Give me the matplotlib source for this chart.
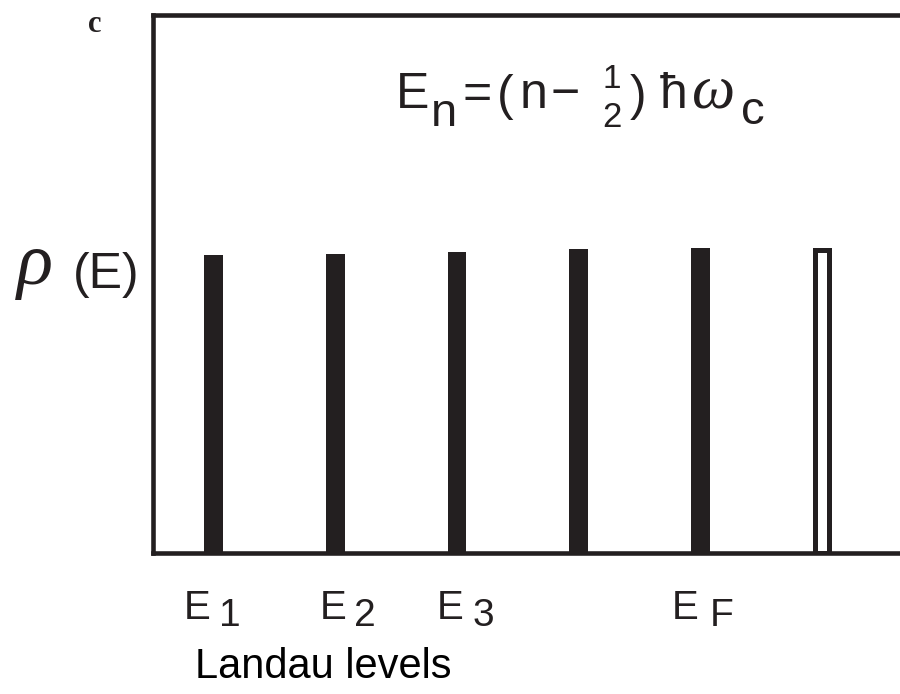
# Landau level density of states sketch

import matplotlib.pyplot as plt
from matplotlib.patches import Rectangle

plt.rcParams['font.family'] = ['Liberation Sans', 'DejaVu Sans']

# level index and density of states height
levels = [1, 2, 3, 4, 5, 6]
rho = [0.554, 0.555, 0.559, 0.565, 0.567, 0.563]
filled = [True, True, True, True, True, False]

# labelled levels below the axis
label_levels = [1, 2, 3, 5]
label_subs = ['1', '2', '3', 'F']

ink = '#231f20'
W, H = 900, 694

fig = plt.figure(figsize=(9, 6.94), dpi=100)
ax = fig.add_axes([153/W, 141/H, 760/W, 538/H])
ax.set_xlim(0.5, 6.75)
ax.set_ylim(0, 1)

for x, h, f in zip(levels, rho, filled):
    if f:
        ax.bar(x, h, width=0.155, color=ink, linewidth=0)
    else:
        ax.add_patch(Rectangle((x - 0.06, 0), 0.12, h, facecolor='white',
                               edgecolor=ink, linewidth=3.6))

for s in ['left', 'bottom', 'top']:
    ax.spines[s].set_linewidth(3.3)
    ax.spines[s].set_color(ink)
ax.spines['right'].set_visible(False)
ax.set_xticks([])
ax.set_yticks([])

# E labels with big dropped subscripts (offsets in pixels from the level)
e_right = [-4, 10, 6, -3]
sub_left = [5, 19, 16, 10]
for x, sub, de, ds in zip(label_levels, label_subs, e_right, sub_left):
    ax.annotate('E', xy=(x, 0), xycoords=('data', 'axes fraction'),
                xytext=(de + 1, -36), textcoords='offset pixels',
                ha='right', va='top', fontsize=29, color=ink)
    ax.annotate(sub, xy=(x, 0), xycoords=('data', 'axes fraction'),
                xytext=(ds, -45), textcoords='offset pixels',
                ha='left', va='top', fontsize=28, color=ink)

renderer = fig.canvas.get_renderer()


def put(x, y, s, **kw):
    # place text by pixel position (baseline), return right edge in pixels
    t = fig.text(x/W, 1 - y/H, s, va='baseline', color=ink, **kw)
    return t.get_window_extent(renderer).x1


# rho(E) on the left
x = put(17, 284, '\u03c1', fontsize=54, family='Liberation Serif', style='italic')
put(x + 20, 288, '(E)', fontsize=36)

# E_n = (n - 1/2) hbar omega_c
base = 108
x = put(396, base, 'E', fontsize=36)
x = put(x + 2, base + 18, 'n', fontsize=34)
x = put(x + 5, base, '=', fontsize=36)
x = put(x + 5, base + 2, '(', fontsize=36)
x = put(x + 6, base, 'n', fontsize=36)
x = put(x + 3, base, '\u2212', fontsize=36)
fx = x + 32
fig.text(fx/W, 1 - 88/H, '1', fontsize=24, color=ink, ha='center', va='baseline')
fig.text(fx/W, 1 - 127/H, '2', fontsize=25, color=ink, ha='center', va='baseline')
x = put(fx + 18, base + 2, ')', fontsize=36)
x = put(x + 14, base, '\u0127', fontsize=36)
x = put(x + 4, base, '\u03c9', fontsize=44, family='Liberation Serif', style='italic')
put(x + 6, base + 16, 'c', fontsize=34)

fig.text(95/W, 1 - 24/H, 'c', family='Liberation Serif', weight='bold',
         fontsize=22, color=ink, ha='center', va='center')
fig.text(323/W, 1 - 667/H, 'Landau levels', fontsize=30, color='black',
         ha='center', va='center')

fig.savefig('out.png', dpi=100)
